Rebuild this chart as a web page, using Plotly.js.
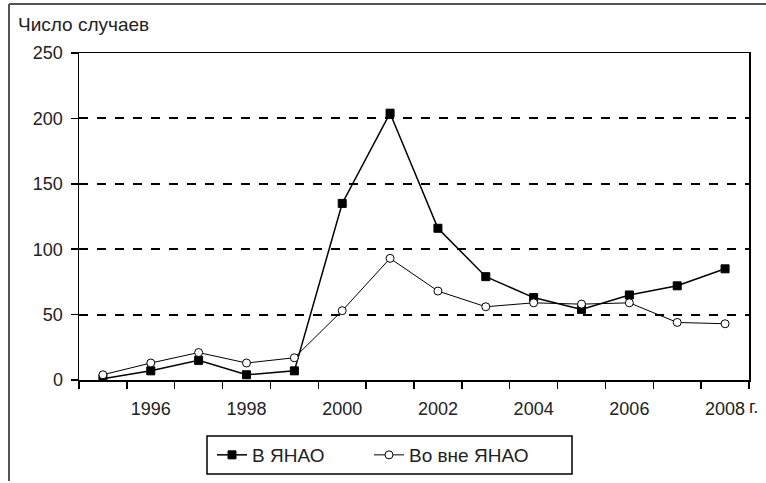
<!DOCTYPE html>
<html>
<head>
<meta charset="utf-8">
<script src="https://cdn.plot.ly/plotly-3.0.1.min.js"></script>
<style>html,body{margin:0;padding:0;background:#fff;}#chart{width:766px;height:483px;}</style>
</head>
<body>
<div id="chart"></div>
<script>
const years = [1995, 1996, 1997, 1998, 1999, 2000, 2001, 2002, 2003, 2004, 2005, 2006, 2007, 2008];
const inYNAO = [1, 7, 15, 4, 7, 135, 204, 116, 79, 63, 54, 65, 72, 85];
const outsideYNAO = [4, 13, 21, 13, 17, 53, 93, 68, 56, 59, 58, 59, 44, 43];
const seriesNames = ['В ЯНАО', 'Во вне ЯНАО'];
const xLabelVals = [1996, 1998, 2000, 2002, 2004, 2006, 2008];
const xLabelText = ['1996', '1998', '2000', '2002', '2004', '2006', '2008'];
const xBoundaries = [1994.5, 1995.5, 1996.5, 1997.5, 1998.5, 1999.5, 2000.5, 2001.5, 2002.5, 2003.5, 2004.5, 2005.5, 2006.5, 2007.5, 2008.5];
const yTicks = [0, 50, 100, 150, 200, 250];

const FONT = 'Liberation Sans, Arial, sans-serif';
const PW = 670, PH = 327, L = 79, B = 380;
const px = v => (v - L) / PW;
const py = v => (B - v) / PH;
const traces = [
  {x: years, y: inYNAO, name: seriesNames[0], type: 'scatter', mode: 'lines+markers', legend: 'legend',
   line: {color: '#000', width: 1.5},
   marker: {symbol: 'square', size: 8, color: '#000', line: {color: '#000', width: 1}}},
  {x: years, y: outsideYNAO, name: seriesNames[1], type: 'scatter', mode: 'lines+markers', legend: 'legend2',
   line: {color: '#000', width: 1},
   marker: {symbol: 'circle', size: 8, color: '#fff', line: {color: '#000', width: 1}}}
];
const legendBase = {orientation: 'h', xanchor: 'left', y: py(436), yanchor: 'top',
  borderwidth: 0, bgcolor: 'rgba(0,0,0,0)', font: {family: FONT, size: 19, color: '#222'}};
const layout = {
  width: 766, height: 483,
  margin: {l: 79, r: 17, t: 53, b: 103, autoexpand: false},
  paper_bgcolor: '#fff', plot_bgcolor: '#fff',
  font: {family: FONT, size: 17, color: '#222'},
  title: {text: 'Число случаев', x: 18/766, xanchor: 'left', xref: 'container',
          y: 1 - 24/483, yanchor: 'middle', yref: 'container',
          font: {family: FONT, size: 19, color: '#222'}},
  showlegend: true,
  legend: Object.assign({}, legendBase, {x: px(212)}),
  legend2: Object.assign({}, legendBase, {x: px(369)}),
  xaxis: {range: [1994.5, 2008.5], tickmode: 'array', tickvals: xLabelVals, ticktext: xLabelText,
          ticks: 'outside', ticklen: 0, tickcolor: 'rgba(0,0,0,0)', ticklabelstandoff: 12,
          tickfont: {family: FONT, size: 18, color: '#222'},
          showline: true, linecolor: '#000', linewidth: 1.5, mirror: true,
          showgrid: false, zeroline: false, fixedrange: true,
          minor: {tickmode: 'array', tickvals: xBoundaries, ticks: 'outside', ticklen: 7,
                  tickcolor: '#000', tickwidth: 1.5, showgrid: false}},
  yaxis: {range: [0, 250], tickmode: 'array', tickvals: yTicks,
          ticks: 'outside', ticklen: 7, tickcolor: '#000', tickwidth: 1.5, ticklabelstandoff: 4,
          tickfont: {family: FONT, size: 18, color: '#222'},
          showline: true, linecolor: '#000', linewidth: 1.5, mirror: true,
          showgrid: true, gridcolor: '#000', gridwidth: 2, griddash: 'dash',
          zeroline: false, fixedrange: true},
  annotations: [
    {text: 'г.', xref: 'paper', yref: 'paper', x: px(747), y: py(407),
     xanchor: 'left', yanchor: 'middle', showarrow: false, font: {family: FONT, size: 18, color: '#222'}}
  ],
  shapes: [
    {type: 'rect', xref: 'paper', yref: 'paper', x0: px(207), x1: px(572), y0: py(436), y1: py(474),
     line: {color: '#000', width: 1.5}, fillcolor: 'rgba(0,0,0,0)'},
    {type: 'line', xref: 'paper', yref: 'paper', x0: px(9), x1: px(766),
     y0: py(4), y1: py(4), line: {color: '#555', width: 2}},
    {type: 'line', xref: 'paper', yref: 'paper', x0: px(9), x1: px(9),
     y0: py(4), y1: py(481), line: {color: '#555', width: 2}}
  ]
};
Plotly.newPlot('chart', traces, layout, {displayModeBar: false, staticPlot: true});
</script>
</body>
</html>
